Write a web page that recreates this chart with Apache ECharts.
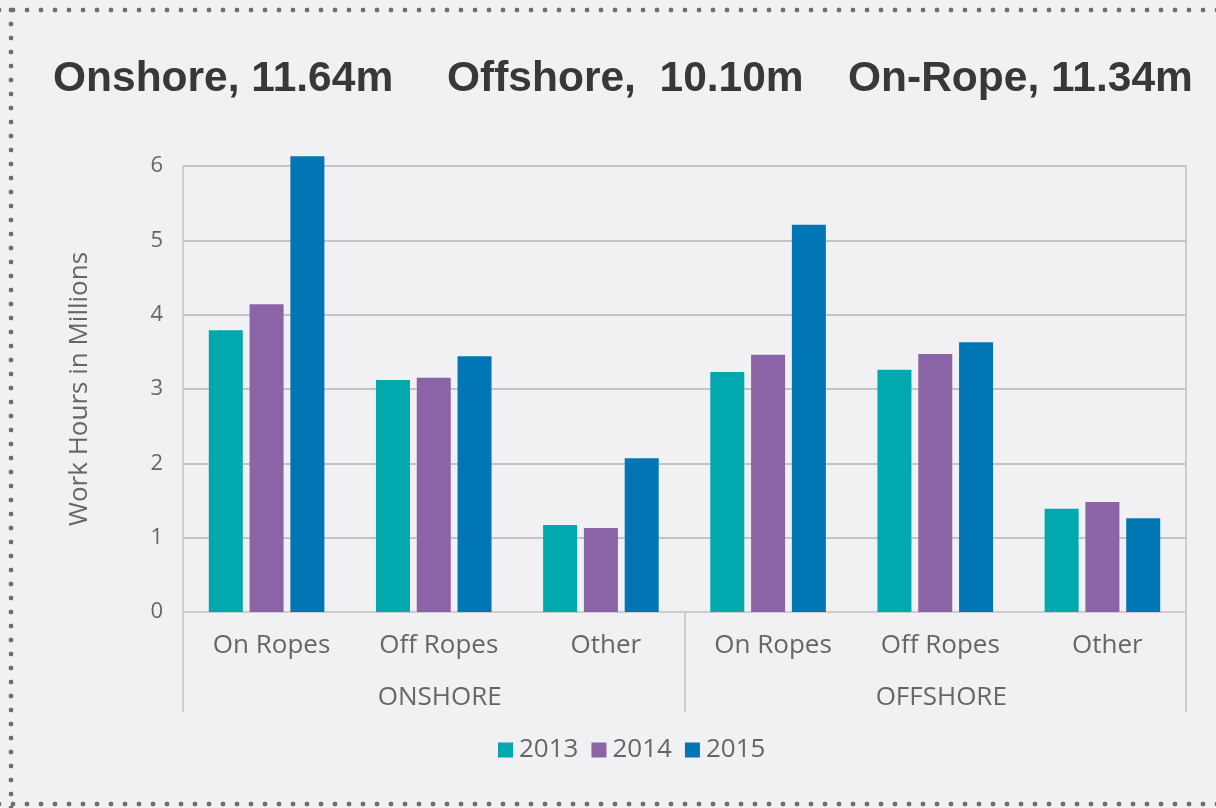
<!DOCTYPE html>
<html>

<head>
    <meta charset="utf-8">
    <title>Work Hours</title>
    <script src="https://cdn.jsdelivr.net/npm/echarts@6/dist/echarts.min.js"></script>
    <style>
        html,
        body {
            margin: 0;
            padding: 0;
            background: #f1f1f3;
        }

        #chart {
            width: 1216px;
            height: 808px;
            /* dotted frame: top, left, bottom */
            background:
                radial-gradient(circle, #6e6e6e 2.1px, transparent 2.7px) 6px 3px / 14px 14px repeat-x,
                radial-gradient(circle, #6e6e6e 2.1px, transparent 2.7px) 4px 3px / 14px 14px repeat-y,
                radial-gradient(circle, #6e6e6e 2.1px, transparent 2.7px) 6px 797px / 14px 14px repeat-x;
        }
    </style>
</head>

<body>
    <div id="chart"></div>
    <script>
        // 数据
        const categories = ['On Ropes', 'Off Ropes', 'Other', 'On Ropes', 'Off Ropes', 'Other'];
        const groups = ['ONSHORE', 'OFFSHORE'];
        const years = ['2013', '2014', '2015'];
        const values2013 = [3.79, 3.12, 1.17, 3.23, 3.26, 1.39];
        const values2014 = [4.14, 3.15, 1.13, 3.46, 3.47, 1.48];
        const values2015 = [6.13, 3.44, 2.07, 5.21, 3.63, 1.26];
        const headlines = ['Onshore, 11.64m', 'Offshore,  10.10m', 'On-Rope, 11.34m'];
        const colors = ['#00a9ad', '#8b63a7', '#0076b5'];

        const labelFont = '"Open Sans", "DejaVu Sans", sans-serif';
        const grey = '#666666';
        const lineGrey = '#cdcdcd';

        const chart = echarts.init(document.getElementById('chart'));

        const headlineX = [53, 447, 848];
        const option = {
            color: colors,
            animation: false,
            graphic: headlines.map((t, i) => ({
                type: 'text',
                left: headlineX[i],
                top: 58,
                style: {
                    text: t,
                    fill: '#383838',
                    font: 'bold 42.5px "Liberation Sans", Arial, sans-serif'
                }
            })),
            grid: {
                left: 183,
                right: 30,
                top: 166,
                bottom: 196,
                show: true,
                borderColor: lineGrey,
                borderWidth: 2,
                backgroundColor: 'transparent'
            },
            legend: {
                data: years,
                bottom: 40,
                left: 493,
                icon: 'rect',
                itemWidth: 15,
                itemHeight: 15,
                itemGap: 13,
                textStyle: {
                    fontFamily: labelFont,
                    fontSize: 26,
                    color: grey,
                    padding: [0, 0, 0, 1]
                }
            },
            xAxis: [{
                type: 'category',
                data: categories,
                axisLine: { lineStyle: { color: lineGrey, width: 2 } },
                axisTick: { show: false },
                axisLabel: {
                    fontFamily: labelFont,
                    fontSize: 26,
                    color: grey,
                    margin: 21,
                    padding: [0, 0, 0, 10]
                }
            }, {
                type: 'category',
                data: groups,
                position: 'bottom',
                axisLine: { show: false },
                axisTick: {
                    show: true,
                    length: 100,
                    lineStyle: { color: lineGrey, width: 2 }
                },
                axisLabel: {
                    fontFamily: labelFont,
                    fontSize: 26,
                    color: grey,
                    margin: 73,
                    padding: [0, 0, 0, 12]
                }
            }],
            yAxis: {
                type: 'value',
                min: 0,
                max: 6,
                interval: 1,
                name: 'Work Hours in Millions',
                nameLocation: 'middle',
                nameGap: 90,
                nameTextStyle: {
                    fontFamily: labelFont,
                    fontSize: 26,
                    color: grey
                },
                axisLine: { show: true, lineStyle: { color: lineGrey, width: 2 } },
                axisLabel: {
                    fontFamily: labelFont,
                    fontSize: 22,
                    color: grey,
                    margin: 20
                },
                splitLine: { lineStyle: { color: '#c4c4c4', width: 2 } }
            },
            series: [
                { name: years[0], type: 'bar', data: values2013, barWidth: 34, barGap: '20%', clip: false },
                { name: years[1], type: 'bar', data: values2014, barWidth: 34, barGap: '20%', clip: false },
                { name: years[2], type: 'bar', data: values2015, barWidth: 34, barGap: '20%', clip: false }
            ]
        };

        chart.setOption(option);
    </script>
</body>

</html>
